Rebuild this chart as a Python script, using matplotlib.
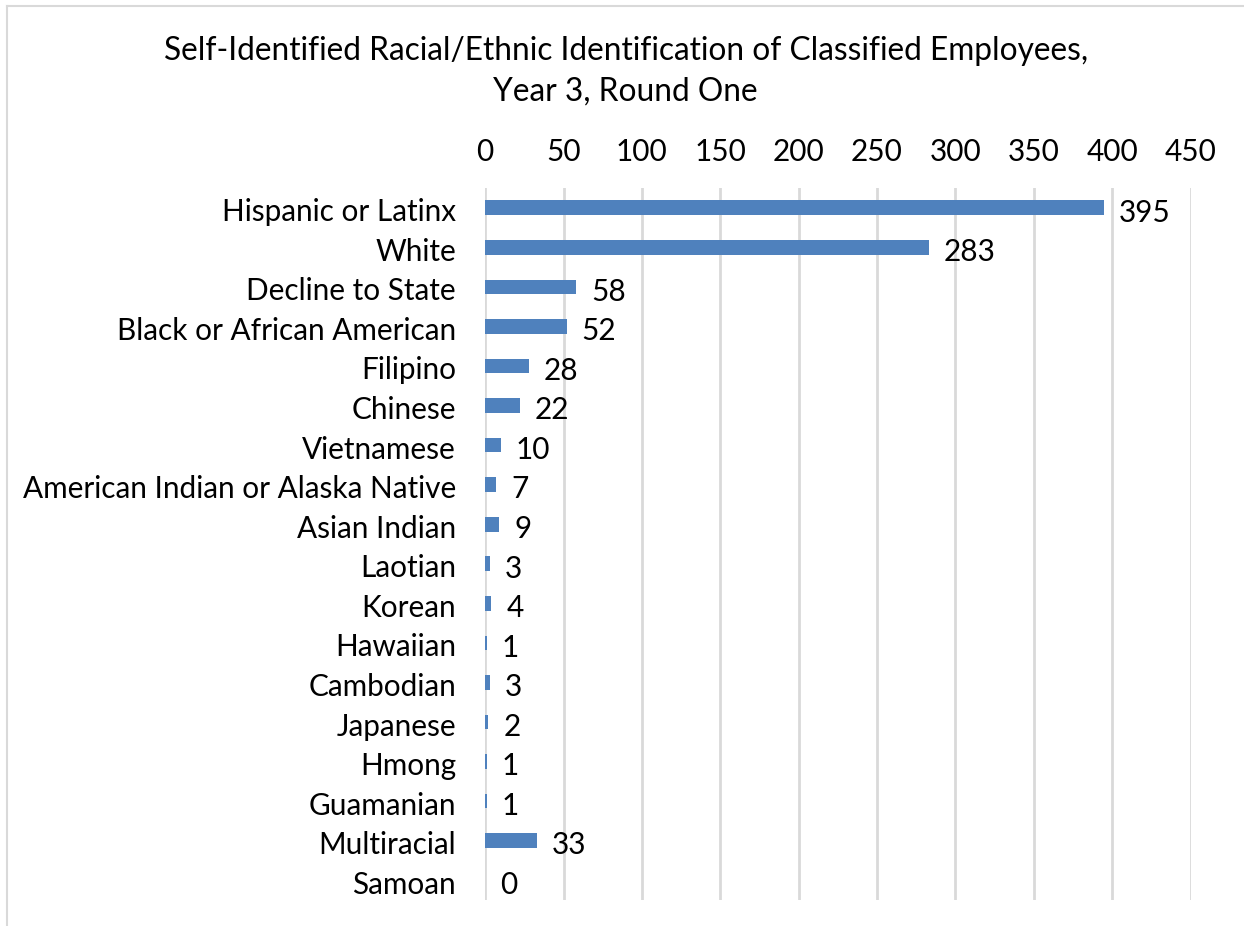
import matplotlib
matplotlib.use("Agg")
import matplotlib.pyplot as plt
from matplotlib.lines import Line2D

# Chart data
categories = [
    "Hispanic or Latinx", "White", "Decline to State", "Black or African American",
    "Filipino", "Chinese", "Vietnamese", "American Indian or Alaska Native",
    "Asian Indian", "Laotian", "Korean", "Hawaiian", "Cambodian", "Japanese",
    "Hmong", "Guamanian", "Multiracial", "Samoan",
]
counts = [395, 283, 58, 52, 28, 22, 10, 7, 9, 3, 4, 1, 3, 2, 1, 1, 33, 0]
x_ticks = [0, 50, 100, 150, 200, 250, 300, 350, 400, 450]
title = "Self-Identified Racial/Ethnic Identification of Classified Employees,\nYear 3, Round One"

plt.rcParams['font.family'] = ['Lato', 'DejaVu Sans']
bar_color = "#4F81BD"
grid_color = "#D9D9D9"
fs = 21.4

fig = plt.figure(figsize=(12.44, 9.26), dpi=100)
ax = fig.add_axes([0.390, 0.028, 0.567, 0.769])

ypos = list(range(len(categories)))
ax.barh(ypos, counts, height=0.37, color=bar_color, zorder=3)
for y, v in zip(ypos, counts):
    ax.text(v + 9.5, y + 0.12, str(v), va="center", ha="left", fontsize=fs, zorder=4)

ax.set_xlim(0, 450)
ax.set_ylim(len(categories) - 0.5, -0.5)
ax.set_yticks([y + 0.05 for y in ypos])
ax.set_yticklabels(categories, fontsize=fs)
ax.set_xticks(x_ticks)
ax.set_xticklabels([str(t) for t in x_ticks], fontsize=fs)
ax.xaxis.tick_top()
ax.tick_params(axis="x", length=0, pad=16)
ax.tick_params(axis="y", length=0, pad=21)
ax.grid(axis="x", color=grid_color, linewidth=2, zorder=0)
for s in ax.spines.values():
    s.set_visible(False)

fig.text(0.503, 0.923, title, ha="center", va="center", fontsize=22.8, linespacing=1.45)

# outer chart border (left and top edges visible)
fig.add_artist(Line2D([0.006, 0.006], [0.0, 0.994], color=grid_color, linewidth=1.5))
fig.add_artist(Line2D([0.006, 1.0], [0.994, 0.994], color=grid_color, linewidth=1.5))

fig.savefig("out.png", dpi=100)
